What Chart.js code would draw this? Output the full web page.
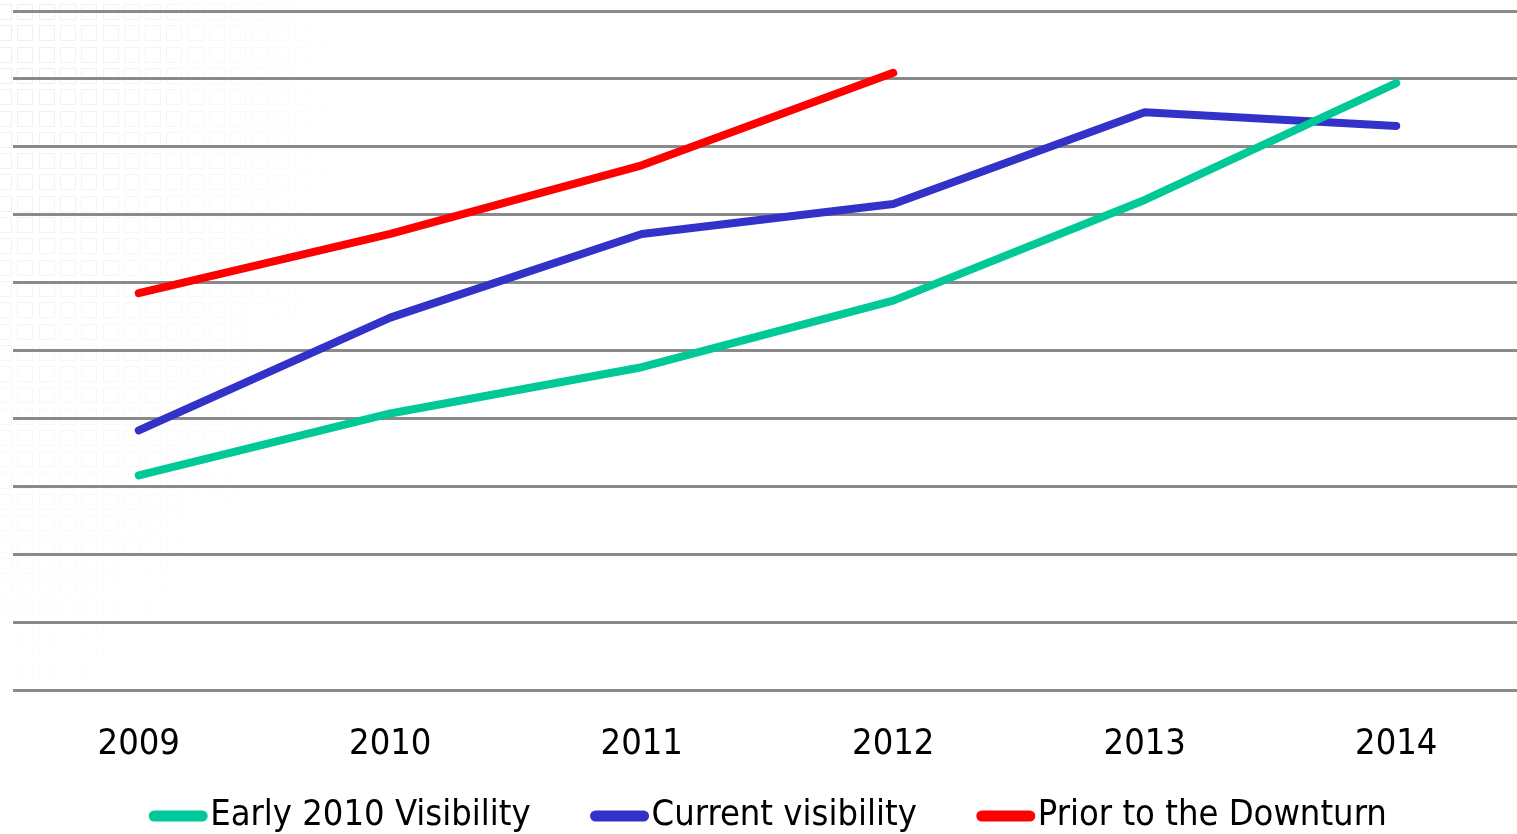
<!DOCTYPE html>
<html>
<head>
<meta charset="utf-8">
<title>Visibility</title>
<script src="https://cdn.jsdelivr.net/npm/chart.js@4/dist/chart.umd.min.js"></script>
<style>
  html, body { margin: 0; padding: 0; background: #fff; overflow: hidden; }
  #wrap { width: 1522px; height: 834px; }
</style>
</head>
<body>
<div id="wrap"><canvas id="c"></canvas></div>
<script>
var years = ['2009', '2010', '2011', '2012', '2013', '2014'];
var early2010 = [3.17, 4.08, 4.76, 5.74, 7.22, 8.94];
var current = [3.83, 5.49, 6.72, 7.16, 8.51, 8.31];
var priorDownturn = [5.85, 6.72, 7.73, 9.09, null, null];

var FONT = "'DejaVu Sans Condensed', 'DejaVu Sans', sans-serif";

// faint square pattern behind the plot, fading out from the top-left
var squares = {
  id: 'squares',
  beforeDraw: function(chart) {
    var ctx = chart.ctx;
    ctx.save();
    ctx.lineWidth = 1;
    for (var y = 4; y < 690; y += 21.3) {
      for (var x = -4; x < 420; x += 21.3) {
        var a = 1 - Math.sqrt(Math.pow(x / 360, 2) + Math.pow(y / 760, 2));
        if (y > 400) a = Math.min(a, 1 - (x + (y - 400) * 0.9) / 360);
        if (a <= 0) continue;
        ctx.strokeStyle = 'rgba(205,212,230,' + (a * 0.4).toFixed(3) + ')';
        ctx.strokeRect(Math.round(x) + 0.5, Math.round(y) + 0.5, 15, 15);
      }
    }
    ctx.restore();
  }
};

// legend row: short thick line then the label, items centred under the plot
var lineLegend = {
  id: 'lineLegend',
  afterDraw: function(chart) {
    var ctx = chart.ctx;
    var sets = chart.data.datasets;
    var boxW = 58, gap = 3, between = 60, y = 816;
    ctx.save();
    ctx.font = '36px ' + FONT;
    ctx.textBaseline = 'middle';
    var total = 0;
    sets.forEach(function(ds, i) {
      total += boxW + gap + ctx.measureText(ds.label).width + (i ? between : 0);
    });
    var x = 768 - total / 2;
    sets.forEach(function(ds) {
      ctx.strokeStyle = ds.borderColor;
      ctx.lineWidth = 11;
      ctx.lineCap = 'round';
      ctx.beginPath();
      ctx.moveTo(x + 5, y);
      ctx.lineTo(x + boxW - 5, y);
      ctx.stroke();
      ctx.fillStyle = '#000';
      ctx.fillText(ds.label, x + boxW + gap, y);
      x += boxW + gap + ctx.measureText(ds.label).width + between;
    });
    ctx.restore();
  }
};

function series(label, data, color) {
  return {
    label: label,
    data: data,
    borderColor: color,
    backgroundColor: color,
    borderWidth: 8,
    borderCapStyle: 'round',
    borderJoinStyle: 'round',
    pointRadius: 0,
    pointHoverRadius: 0,
    tension: 0,
    fill: false
  };
}

new Chart(document.getElementById('c'), {
  type: 'line',
  data: {
    labels: years,
    datasets: [
      series('Early 2010 Visibility', early2010, '#00c896'),
      series('Current visibility', current, '#3232c8'),
      series('Prior to the Downturn', priorDownturn, '#ff0000')
    ]
  },
  options: {
    responsive: true,
    maintainAspectRatio: false,
    animation: false,
    events: [],
    layout: { padding: { left: 13, right: 0, top: 11, bottom: 36 } },
    plugins: {
      legend: { display: false },
      tooltip: { enabled: false }
    },
    scales: {
      x: {
        offset: true,
        grid: { display: false, drawTicks: false },
        border: { display: false },
        ticks: {
          color: '#000',
          padding: 32,
          font: { family: FONT, size: 36 }
        }
      },
      y: {
        min: 0,
        max: 10,
        grid: { color: '#8a8a8a', lineWidth: 3, drawTicks: false },
        border: { display: false },
        ticks: { display: false, stepSize: 1 }
      }
    }
  },
  plugins: [squares, lineLegend]
});
</script>
</body>
</html>
